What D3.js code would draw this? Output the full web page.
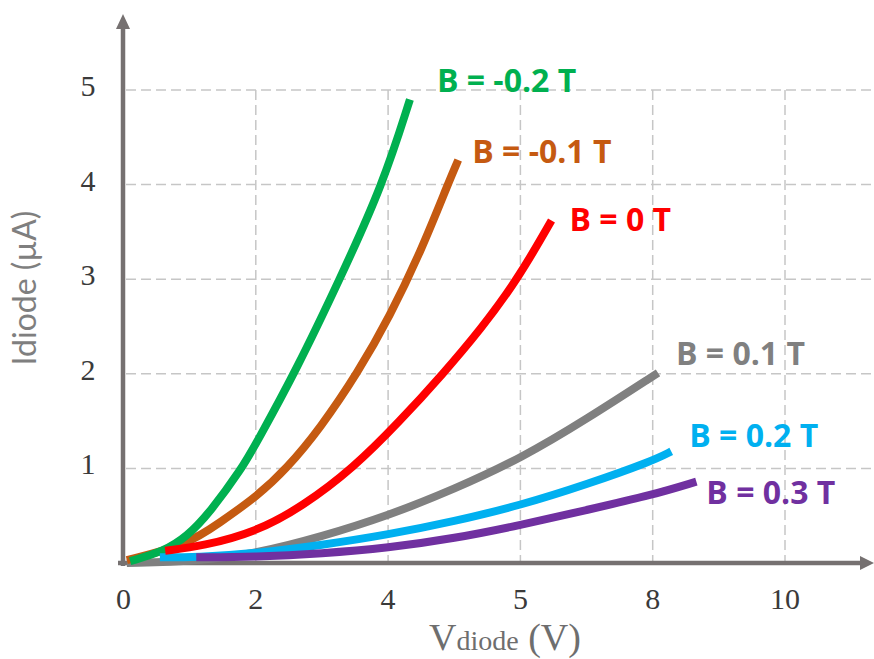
<!DOCTYPE html>
<html>
<head>
<meta charset="utf-8">
<script src="https://cdn.jsdelivr.net/npm/d3@7"></script>
<style>
  html, body { margin: 0; padding: 0; background: #fff; }
</style>
</head>
<body>
<script>
// Tick values on the axes and the labels printed for them
const xTickValues = [0, 2, 4, 6, 8, 10];
const xTickLabels = ["0", "2", "4", "5", "8", "10"];
const yTickValues = [1, 2, 3, 4, 5];
const yTickLabels = ["1", "2", "3", "4", "5"];

// Curve names (label text) and colours
const seriesNames = ["B = 0.1 T", "B = -0.1 T", "B = -0.2 T", "B = 0.2 T", "B = 0.3 T", "B = 0 T"];
const seriesColors = ["#808080", "#C55A11", "#00B050", "#00B0F0", "#7030A0", "#FF0000"];

// Curve samples: [V, I]
const gray01 = [[0.05, 0.0], [1.1, 0.02], [2.01, 0.1], [3.0, 0.28], [4.0, 0.5], [5.0, 0.78], [6.02, 1.11], [7.0, 1.52], [8.08, 2.01]];
const orangeM01 = [[0.05, 0.03], [0.96, 0.19], [1.46, 0.43], [2.01, 0.7], [2.47, 1.0], [2.97, 1.42], [3.55, 2.02], [4.02, 2.6], [4.5, 3.3], [4.93, 4.05], [5.06, 4.26]];
const greenM02 = [[0.1, 0.02], [0.6, 0.12], [0.96, 0.28], [1.3, 0.53], [1.79, 1.0], [2.01, 1.27], [2.62, 2.05], [3.27, 3.0], [3.92, 4.0], [4.33, 4.9]];
const cyan02 = [[0.55, 0.06], [1.1, 0.06], [2.0, 0.1], [3.0, 0.19], [4.0, 0.3], [5.0, 0.44], [6.0, 0.61], [7.0, 0.83], [8.0, 1.08], [8.28, 1.18]];
const purple03 = [[1.1, 0.06], [2.0, 0.065], [3.0, 0.1], [4.0, 0.16], [5.0, 0.26], [6.0, 0.4], [7.0, 0.56], [8.0, 0.72], [8.66, 0.86]];
const red0 = [[0.63, 0.13], [1.2, 0.18], [2.01, 0.33], [2.71, 0.6], [3.47, 1.0], [4.18, 1.5], [4.83, 2.0], [5.4, 2.47], [5.96, 3.0], [6.47, 3.62]];

const seriesData = [gray01, orangeM01, greenM02, cyan02, purple03, red0];

// label offset from the curve's last point, in px
const labelOffsets = [[18, -8], [14, 3], [27, -7], [18, -4], [10, 22], [18, 10]];

const width = 874, height = 659;
const axisColor = "#767171";

const x = d3.scaleLinear().domain([0, 10]).range([123.5, 785]);
const y = d3.scaleLinear().domain([0, 5]).range([563, 90]);

const svg = d3.select("body").append("svg")
  .attr("width", width)
  .attr("height", height);

// grid
const grid = svg.append("g")
  .attr("stroke", "#c6c6c6")
  .attr("stroke-width", 1.5)
  .attr("stroke-dasharray", "10,5");
grid.selectAll("line.h")
  .data(yTickValues)
  .enter().append("line")
  .attr("class", "h")
  .attr("x1", 126).attr("x2", width)
  .attr("y1", (d) => y(d)).attr("y2", (d) => y(d));
grid.selectAll("line.v")
  .data(xTickValues.slice(1))
  .enter().append("line")
  .attr("class", "v")
  .attr("x1", (d) => x(d)).attr("x2", (d) => x(d))
  .attr("y1", y(5)).attr("y2", y(0));

// axes with arrow heads
const x0 = x(0) - 0.5, y0 = y(0);
svg.append("line")
  .attr("x1", x0).attr("x2", x0)
  .attr("y1", 28).attr("y2", y0 + 3)
  .attr("stroke", axisColor).attr("stroke-width", 4.5);
svg.append("path")
  .attr("d", `M${x0 - 7},29 L${x0 + 7},29 L${x0},14 Z`)
  .attr("fill", axisColor);
svg.append("line")
  .attr("x1", x0 - 5).attr("x2", 861)
  .attr("y1", y0).attr("y2", y0)
  .attr("stroke", axisColor).attr("stroke-width", 4.5);
svg.append("path")
  .attr("d", `M860,${y0 - 7} L860,${y0 + 7} L874,${y0} Z`)
  .attr("fill", axisColor);

// tick labels
svg.append("g")
  .selectAll("text")
  .data(xTickValues)
  .enter().append("text")
  .attr("x", (d) => x(d))
  .attr("y", 609)
  .attr("text-anchor", "middle")
  .style("font-family", "'Liberation Serif', 'Times New Roman', serif")
  .style("font-size", "30px")
  .style("fill", "#3a3a3a")
  .text((d, i) => xTickLabels[i]);

svg.append("g")
  .selectAll("text")
  .data(yTickValues)
  .enter().append("text")
  .attr("x", 88)
  .attr("y", (d) => y(d) + 6)
  .attr("text-anchor", "middle")
  .style("font-family", "'Liberation Serif', 'Times New Roman', serif")
  .style("font-size", "30px")
  .style("fill", "#3a3a3a")
  .text((d, i) => yTickLabels[i]);

// axis titles
const xTitle = svg.append("text")
  .attr("x", 429)
  .attr("y", 650)
  .style("font-family", "'Liberation Serif', 'Times New Roman', serif")
  .style("fill", "#6e6e6e");
xTitle.append("tspan").style("font-size", "38px").text("V");
xTitle.append("tspan").style("font-size", "28px").text("diode");
xTitle.append("tspan").style("font-size", "38px").text(" (V)");

svg.append("text")
  .attr("transform", "translate(36,288) rotate(-90)")
  .attr("text-anchor", "middle")
  .style("font-family", "Lato, 'Open Sans', sans-serif")
  .style("font-size", "32px")
  .style("fill", "#7f7f7f")
  .text("Idiode (µA)");

// curves
const line = d3.line()
  .x((d) => x(d[0]))
  .y((d) => y(d[1]))
  .curve(d3.curveBasis);

svg.append("g")
  .selectAll("path")
  .data(seriesData)
  .enter().append("path")
  .attr("d", line)
  .attr("fill", "none")
  .attr("stroke", (d, i) => seriesColors[i])
  .attr("stroke-width", 8);

// curve labels
svg.append("g")
  .selectAll("text")
  .data(seriesData)
  .enter().append("text")
  .attr("x", (d, i) => x(d[d.length - 1][0]) + labelOffsets[i][0])
  .attr("y", (d, i) => y(d[d.length - 1][1]) + labelOffsets[i][1])
  .style("font-family", "'Open Sans', sans-serif")
  .style("font-weight", "700")
  .style("font-size", "32px")
  .style("fill", (d, i) => seriesColors[i])
  .text((d, i) => seriesNames[i]);
</script>
</body>
</html>
